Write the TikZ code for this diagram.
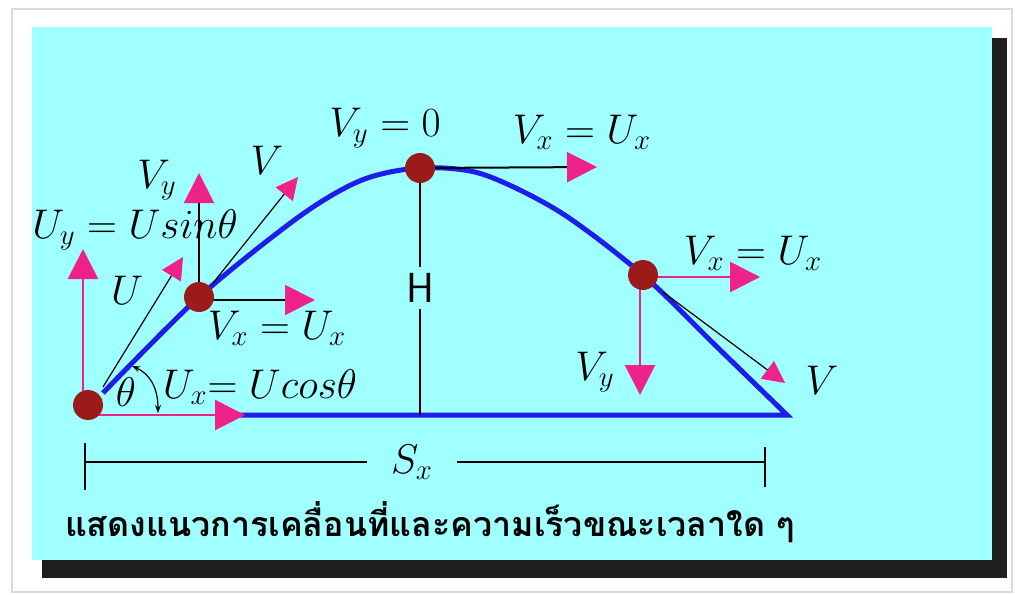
\documentclass[tikz,border=0pt]{standalone}
\usepackage{fontspec}
\usetikzlibrary{arrows.meta}
\newfontfamily\thaifont[Script=Thai]{Loma}
\definecolor{skycyan}{RGB}{160,255,255}
\definecolor{pathblue}{RGB}{30,30,235}
\definecolor{vpink}{RGB}{238,34,136}
\definecolor{balldark}{RGB}{155,27,27}

\tikzset{
  ball/.style={circle,fill=balldark,minimum size=15pt,inner sep=0pt},
  lbl/.style={font=\fontsize{20}{22}\selectfont,inner sep=1pt},
  traj/.style={draw=pathblue,line width=2.5pt,line join=miter},
  pinkline/.style={draw=vpink,line width=1.4pt},
  blackline/.style={draw=black,line width=1pt},
  thinline/.style={draw=black,line width=0.6pt},
  bighead/.style={-{Triangle[color=vpink,length=15pt,width=15pt]}},
  smallhead/.style={-{Triangle[color=vpink,length=11pt,width=11pt]}}
}

\begin{document}
\begin{tikzpicture}[x=0.5pt,y=-0.5pt]
  \useasboundingbox (0,0) rectangle (1015,594);
  % frame and shadow
  \draw[black!15,line width=1pt,fill=white] (12,9) rectangle (1012,592);
  \fill[black!88] (42,38) rectangle (1007,578);
  \fill[skycyan] (32,27) rectangle (992,560);

  % positions of the ball
  \coordinate (L) at (88,405);
  \coordinate (P) at (199,297);
  \coordinate (T) at (420,168);
  \coordinate (Q) at (643,275);
  \coordinate (E) at (787,415);

  % free ends of the vectors
  \coordinate (uyend) at (83,249);
  \coordinate (uxend) at (245,415);
  \coordinate (ustart) at (103,387);
  \coordinate (uend) at (183,257);
  \coordinate (vyPend) at (199,173);
  \coordinate (vxPend) at (315,300);
  \coordinate (vPstart) at (213,283);
  \coordinate (vPend) at (298,177);
  \coordinate (vxTend) at (597,167);
  \coordinate (vxQend) at (760,277);
  \coordinate (vyQend) at (640,395);
  \coordinate (vQstart) at (663,292);
  \coordinate (vQend) at (785,383);

  % path of the projectile
  \draw[traj] plot[smooth] coordinates {(103,393) (P) (300,216) (362,180) (T)
      (482,174) (560,212) (Q) (715,345) (E)} -- (235,415);

  % vectors at launch
  \draw[pinkline,bighead] (L) ++(-5,0) -- (uyend);
  \draw[pinkline,bighead] (88,415) -- (uxend);
  \draw[thinline,smallhead] (ustart) -- (uend);
  \draw[thinline,{Stealth[length=4pt]}-{Stealth[length=4pt]}]
    (158,413) .. controls (158,388) and (150,374) .. (132,366);

  % vectors on the way up
  \draw[blackline,bighead] (P) -- (vyPend);
  \draw[blackline,bighead] (P) ++(0,3) -- (vxPend);
  \draw[thinline,smallhead] (vPstart) -- (vPend);

  % vector at the top
  \draw[blackline,bighead] (T) -- (vxTend);

  % vectors on the way down
  \draw[pinkline,bighead] (Q) ++(0,2) -- (vxQend);
  \draw[pinkline,bighead] (Q) ++(-3,0) -- (vyQend);
  \draw[thinline,smallhead] (vQstart) -- (vQend);

  % balls
  \node[ball] (Lball) at (L) {};
  \node[ball] (Pball) at (P) {};
  \node[ball] (Tball) at (T) {};
  \node[ball] (Qball) at (Q) {};

  % height
  \node[font=\sffamily\fontsize{21}{23}\selectfont,inner sep=3pt] (hlbl) at (420,288) {H};
  \draw[blackline] (Tball) -- (hlbl.north);
  \draw[blackline] (hlbl.south) -- (420,415);

  % range
  \node[lbl,inner xsep=12pt] (sxlbl) at (412,462) {$S_x$};
  \draw[blackline] (85,462) -- (sxlbl.west);
  \draw[blackline] (sxlbl.east) -- (765,462);
  \draw[blackline] (85,443) -- (85,490);
  \draw[blackline] (765,447) -- (765,487);

  % labels
  \node[lbl] (uylbl) at (135,230) {$U_y = Usin\theta$};
  \node[lbl] (ulbl) at (127,290) {$U$};
  \node[lbl] (thlbl) at (126,392) {$\theta$};
  \node[lbl] (uxlbl) at (260,387) {$U_x{=}\;Ucos\theta$};
  \node[lbl] (vyPlbl) at (157,180) {$V_y$};
  \node[lbl] (vPlbl) at (267,160) {$V$};
  \node[lbl] (vxPlbl) at (277,328) {$V_x = U_x$};
  \node[lbl] (vyTlbl) at (385,128) {$V_y = 0$};
  \node[lbl] (vxTlbl) at (582,132) {$V_x = U_x$};
  \node[lbl] (vxQlbl) at (753,253) {$V_x = U_x$};
  \node[lbl] (vyQlbl) at (595,372) {$V_y$};
  \node[lbl] (vQlbl) at (822,380) {$V$};

  % caption
  \node[font=\thaifont\bfseries\fontsize{17}{20}\selectfont] (caption) at (430,522)
    {แสดงแนวการเคลื่อนที่และความเร็วขณะเวลาใด ๆ};
\end{tikzpicture}
\end{document}
